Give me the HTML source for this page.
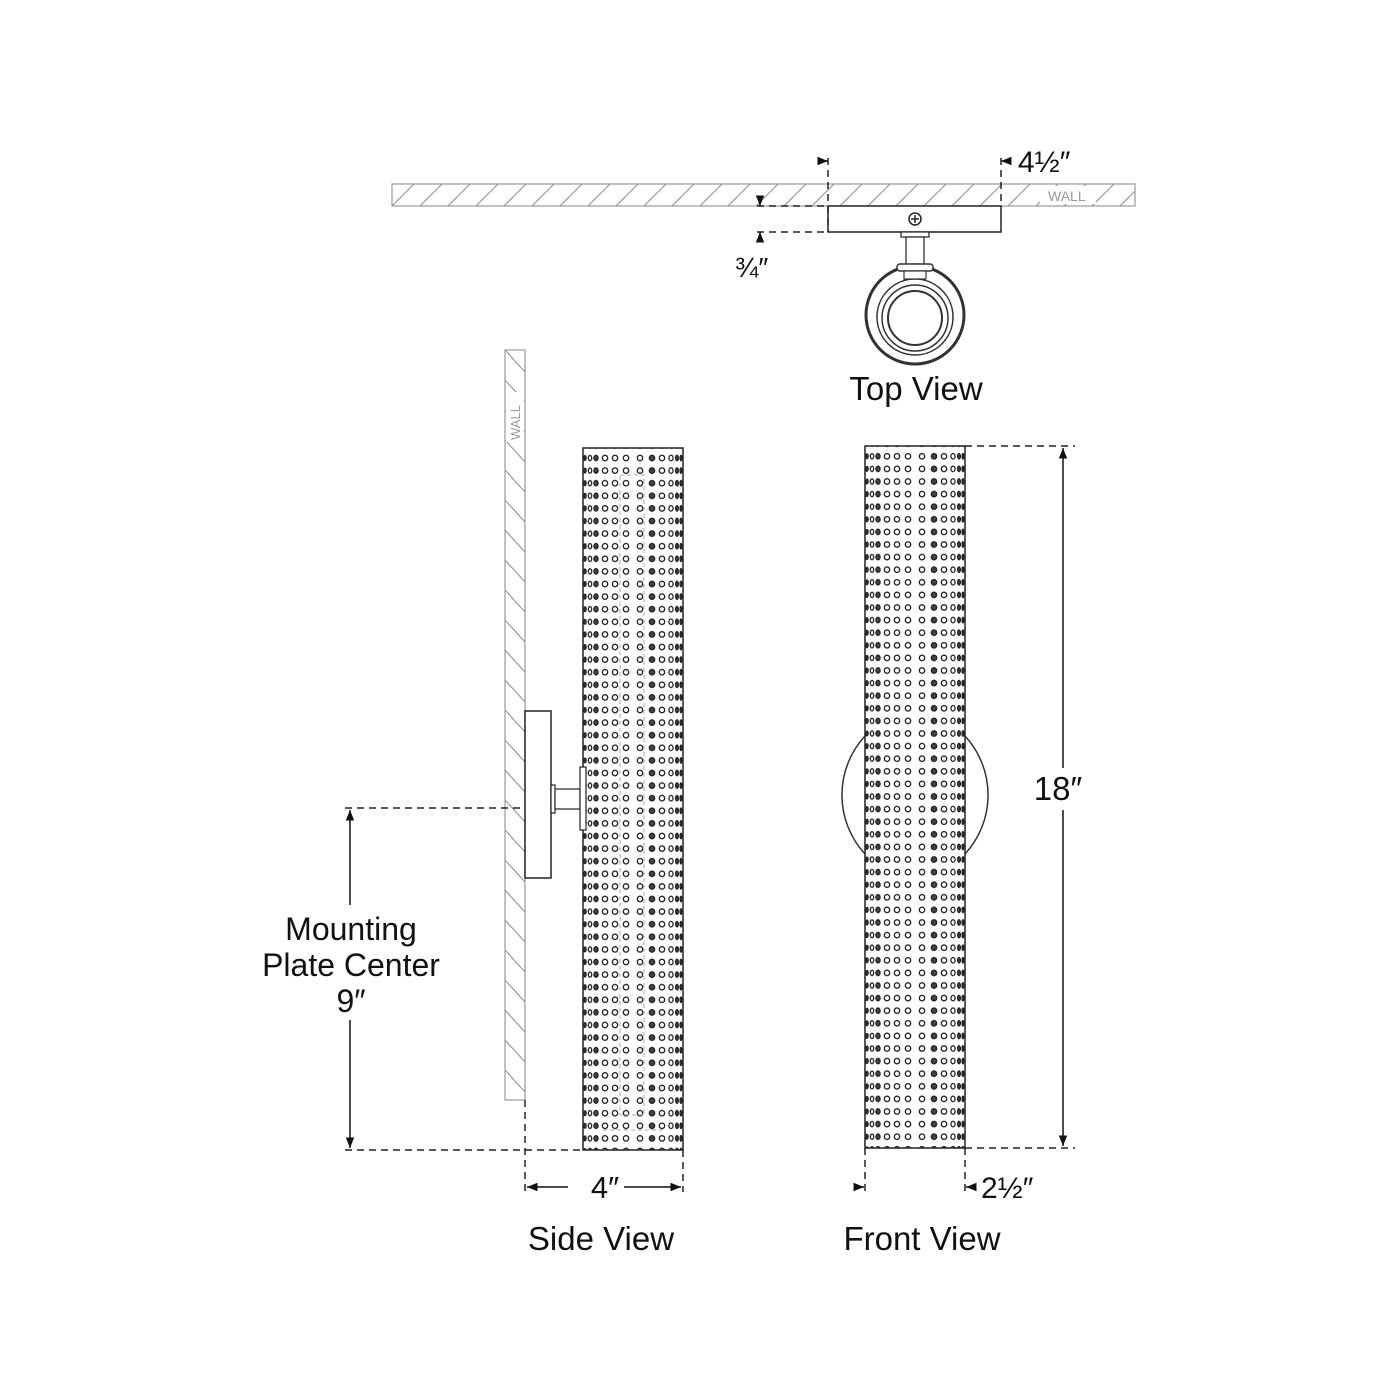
<!DOCTYPE html>
<html><head><meta charset="utf-8"><style>
html,body{margin:0;padding:0;background:#fff;}
svg{display:block;}
text{font-family:"Liberation Sans",sans-serif;fill:#111;}
</style></head><body>
<svg width="1400" height="1400" viewBox="0 0 1400 1400" xmlns="http://www.w3.org/2000/svg">
<defs>
<pattern id="hatchH" patternUnits="userSpaceOnUse" width="28" height="22" x="392" y="184">
<line x1="0" y1="22" x2="22" y2="0" stroke="#999" stroke-width="1.2"/>
<line x1="28" y1="22" x2="50" y2="0" stroke="#999" stroke-width="1.2"/>
</pattern>
<pattern id="hatchV" patternUnits="userSpaceOnUse" width="20" height="30" x="505" y="350">
<line x1="0" y1="0" x2="20" y2="22" stroke="#999" stroke-width="1.2"/>
<line x1="0" y1="30" x2="20" y2="52" stroke="#999" stroke-width="1.2"/>
<line x1="0" y1="-30" x2="20" y2="-8" stroke="#999" stroke-width="1.2"/>
</pattern>
<g id="dotrow" stroke="#222" stroke-width="1.3" fill="#fff">
<ellipse cx="2" cy="0" rx="1.1" ry="2.4" fill="#444"/>
<ellipse cx="7" cy="0" rx="1.7" ry="2.6"/>
<ellipse cx="13" cy="0" rx="2.1" ry="2.7" fill="#444"/>
<circle cx="22" cy="0" r="2.7"/>
<circle cx="32" cy="0" r="2.7"/>
<circle cx="43" cy="0" r="2.7"/>
<circle cx="57" cy="0" r="2.7"/>
<circle cx="69" cy="0" r="2.7" fill="#444"/>
<circle cx="79" cy="0" r="2.7"/>
<ellipse cx="88" cy="0" rx="2.1" ry="2.7"/>
<ellipse cx="94" cy="0" rx="1.4" ry="2.7" fill="#444"/>
<ellipse cx="98" cy="0" rx="0.9" ry="2.7" fill="#444"/>
</g>
<pattern id="dotsS" patternUnits="userSpaceOnUse" width="100" height="12.6" x="583" y="451.7">
<use href="#dotrow" y="6.3"/>
</pattern>
<pattern id="dotsF" patternUnits="userSpaceOnUse" width="100" height="12.6" x="865" y="450">
<use href="#dotrow" y="6.3"/>
</pattern>
<marker id="ar" viewBox="0 0 10 10" refX="10" refY="5" markerWidth="7" markerHeight="7" orient="auto-start-reverse"><path d="M0,1 L10,5 L0,9 z" fill="#111"/></marker>
</defs>

<!-- TOP VIEW -->
<rect x="392" y="184" width="743" height="22" fill="url(#hatchH)" stroke="#999" stroke-width="1.2"/>
<rect x="1040" y="186" width="56" height="18" fill="#fff"/>
<text x="1048" y="201" font-size="14" style="fill:#999">WALL</text>
<rect x="828" y="206" width="173" height="26" fill="#fff" stroke="#222" stroke-width="1.5"/>
<circle cx="915" cy="219" r="6" fill="#fff" stroke="#222" stroke-width="1.5"/>
<path d="M911,219h8M915,215v8" stroke="#222" stroke-width="1.5"/>
<rect x="901" y="232" width="28" height="5" fill="#fff" stroke="#222" stroke-width="1.2"/>
<rect x="906" y="237" width="18" height="27" fill="#fff" stroke="#222" stroke-width="1.2"/>
<circle cx="915" cy="315" r="49" fill="#fff" stroke="#333" stroke-width="3"/>
<circle cx="915" cy="317" r="38" fill="none" stroke="#333" stroke-width="1.5"/>
<circle cx="915" cy="318" r="33" fill="none" stroke="#333" stroke-width="1.5"/>
<circle cx="915" cy="318" r="27" fill="none" stroke="#333" stroke-width="2"/>
<rect x="897" y="264" width="36" height="7" rx="3" fill="#fff" stroke="#333" stroke-width="1.5"/>
<rect x="904" y="271" width="22" height="8" fill="#fff" stroke="#333" stroke-width="1.2"/>
<g stroke="#222" stroke-width="1.5" stroke-dasharray="7,5" fill="none">
<line x1="828" y1="158" x2="828" y2="232"/>
<line x1="1001" y1="158" x2="1001" y2="206"/>
<line x1="757" y1="206" x2="828" y2="206"/>
<line x1="757" y1="232" x2="828" y2="232"/>
</g>
<line x1="818" y1="161" x2="828" y2="161" stroke="#111" stroke-width="1.5" marker-end="url(#ar)"/>
<line x1="1011" y1="161" x2="1001" y2="161" stroke="#111" stroke-width="1.5" marker-end="url(#ar)"/>
<line x1="760" y1="198" x2="760" y2="206" stroke="#111" stroke-width="1.5" marker-end="url(#ar)"/>
<line x1="760" y1="242" x2="760" y2="232" stroke="#111" stroke-width="1.5" marker-end="url(#ar)"/>
<text x="1018" y="172" font-size="30">4½″</text>
<text x="735" y="277" font-size="28">¾″</text>
<text x="916" y="400" font-size="33" text-anchor="middle">Top View</text>

<!-- SIDE VIEW -->
<rect x="505" y="350" width="20" height="750" fill="url(#hatchV)" stroke="#999" stroke-width="1.2"/>
<rect x="506" y="392" width="18" height="50" fill="#fff"/>
<text x="520" y="440" font-size="13" transform="rotate(-90 520 440)" style="fill:#999">WALL</text>
<rect x="525" y="711" width="26" height="167" fill="#fff" stroke="#222" stroke-width="1.5"/>
<rect x="551" y="785" width="4" height="28" fill="#fff" stroke="#222" stroke-width="1.2"/>
<rect x="555" y="789" width="25" height="20" fill="#fff" stroke="#222" stroke-width="1.2"/>
<rect x="583" y="448" width="100" height="702" fill="url(#dotsS)" stroke="#222" stroke-width="1.5"/>
<rect x="580" y="767" width="6" height="63" fill="#fff" stroke="#222" stroke-width="1.2"/>
<g stroke="#aaa" stroke-width="1" stroke-dasharray="4,3" fill="none">
<rect x="620" y="475" width="24" height="640"/>
<line x1="603" y1="1130" x2="665" y2="1130"/>
</g>

<!-- FRONT VIEW -->
<path d="M865,736 A87,87 0 0 0 865,854" fill="none" stroke="#333" stroke-width="1.5"/>
<path d="M965,736 A87,87 0 0 1 965,854" fill="none" stroke="#333" stroke-width="1.5"/>
<rect x="865" y="446" width="100" height="702" fill="url(#dotsF)" stroke="#222" stroke-width="1.5"/>

<!-- dimensions -->
<g stroke="#222" stroke-width="1.5" stroke-dasharray="7,5" fill="none">
<line x1="965" y1="446" x2="1075" y2="446"/>
<line x1="965" y1="1148" x2="1075" y2="1148"/>
<line x1="345" y1="808" x2="525" y2="808"/>
<line x1="345" y1="1150" x2="583" y2="1150"/>
<line x1="525" y1="1100" x2="525" y2="1192"/>
<line x1="683" y1="1150" x2="683" y2="1192"/>
<line x1="865" y1="1148" x2="865" y2="1192"/>
<line x1="965" y1="1148" x2="965" y2="1192"/>
</g>
<line x1="1063" y1="448" x2="1063" y2="768" stroke="#111" stroke-width="1.5" marker-start="url(#ar)"/>
<line x1="1063" y1="810" x2="1063" y2="1146" stroke="#111" stroke-width="1.5" marker-end="url(#ar)"/>
<text x="1058" y="800" font-size="33" text-anchor="middle">18″</text>
<line x1="350" y1="810" x2="350" y2="905" stroke="#111" stroke-width="1.5" marker-start="url(#ar)"/>
<line x1="350" y1="1020" x2="350" y2="1148" stroke="#111" stroke-width="1.5" marker-end="url(#ar)"/>
<text x="351" y="940" font-size="32" text-anchor="middle">Mounting</text>
<text x="351" y="976" font-size="32" text-anchor="middle">Plate Center</text>
<text x="351" y="1012" font-size="32" text-anchor="middle">9″</text>
<line x1="568" y1="1187" x2="527" y2="1187" stroke="#111" stroke-width="1.5" marker-end="url(#ar)"/>
<line x1="624" y1="1187" x2="681" y2="1187" stroke="#111" stroke-width="1.5" marker-end="url(#ar)"/>
<text x="605" y="1198" font-size="31" text-anchor="middle">4″</text>
<line x1="856" y1="1187" x2="864" y2="1187" stroke="#111" stroke-width="1.5" marker-end="url(#ar)"/>
<line x1="974" y1="1187" x2="966" y2="1187" stroke="#111" stroke-width="1.5" marker-end="url(#ar)"/>
<text x="981" y="1198" font-size="30">2½″</text>
<text x="601" y="1250" font-size="33" text-anchor="middle">Side View</text>
<text x="922" y="1250" font-size="33" text-anchor="middle">Front View</text>
</svg>
</body></html>
